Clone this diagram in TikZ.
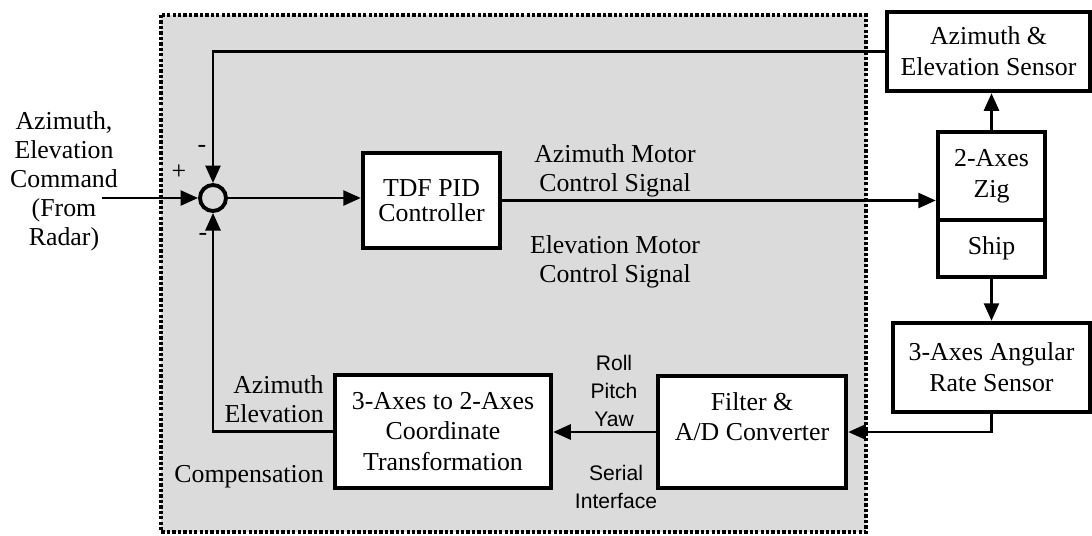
\documentclass[tikz,border=0pt]{standalone}
\usepackage{fontspec}
\setmainfont{Liberation Serif}
\setsansfont{Liberation Sans}
\usepackage{tikz}
\usetikzlibrary{arrows.meta, positioning, calc}

\begin{document}
\begin{tikzpicture}[
    x=0.02cm, y=-0.02cm,
    box/.style={rectangle, draw=black, line width=2.5pt, fill=white, align=center, inner sep=0pt, font=\fontsize{14.7}{17.5}\selectfont},
    arrow/.style={-{Triangle[length=10pt, width=8.5pt]}, line width=1.6pt},
    lbl/.style={align=center, inner sep=0pt, font=\fontsize{14.7}{16.5}\selectfont},
    sflbl/.style={align=center, inner sep=0pt, font=\sffamily\fontsize{12}{15.8}\selectfont}
]
\useasboundingbox (0,0) rectangle (1092,535);

% --- Shaded frame ---
\draw[fill=black!14, line width=1.9pt, dash pattern=on 1.9pt off 1.2pt] (161,15) rectangle (866,532);

% --- Blocks ---
\node[circle, draw=black, line width=2.2pt, minimum size=0.52cm, inner sep=0pt] (sum) at (213,198) {};
\node[box, minimum width=2.74cm, minimum height=1.9cm, font=\fontsize{14.7}{14.5}\selectfont] (tdf) at (431.5,200.5) {TDF PID\\Controller};
\node[box, minimum width=4.06cm, minimum height=1.58cm] (azsens) at (988.5,51.5) {Azimuth \&\\Elevation Sensor};
\node[box, minimum width=2.14cm, minimum height=1.76cm] (zig) at (991.5,176) {2-Axes\\Zig};
\node[box, minimum width=2.14cm, minimum height=1.14cm] (ship) at (991.5,248.5) {Ship};
\node[box, minimum width=3.94cm, minimum height=1.78cm] (rate) at (991.5,367.5) {3-Axes Angular\\Rate Sensor};
\node[box, minimum width=3.76cm, minimum height=2.24cm] (filter) at (752,432) {Filter \&\\A/D Converter\\\mbox{}};
\node[box, minimum width=4.32cm, minimum height=2.26cm] (trans) at (443,431.5) {3-Axes to 2-Axes\\Coordinate\\Transformation};

% --- Labels ---
\node[lbl] (cmd) at (64,181) {Azimuth,\\Elevation\\Command\\(From\\Radar)};
\coordinate (cmdin) at (102,198);
\node[lbl] (plus) at (179,172) {+};
\node[lbl] (mtop) at (202,149) {-};
\node[lbl] (mbot) at (203,237) {-};
\node[lbl] (azmot) at (615,171) {Azimuth Motor\\Control Signal};
\node[lbl] (elmot) at (615,262) {Elevation Motor\\Control Signal};
\node[lbl, anchor=east, align=right] (azel) at (324,399.5) {Azimuth\\Elevation};
\node[lbl, anchor=east] (comp) at (324,477) {Compensation};
\node[sflbl] (rpy) at (614,391) {Roll\\Pitch\\Yaw};
\node[sflbl] (serial) at (616,487) {Serial\\Interface};

% --- Forward path ---
\draw[arrow] (cmdin) -- (sum.west);
\draw[arrow] (sum.east) -- (sum.east -| tdf.west);
\draw[arrow] (tdf.east) -- (tdf.east -| zig.west);
\draw[arrow] (zig.north) -- (zig.north |- azsens.south);
\draw[arrow] (ship.south) -- (ship.south |- rate.north);

% --- Sensor path ---
\draw[arrow] (rate.south) |- (filter.east);
\draw[arrow] (filter.west) -- (filter.west -| trans.east);

% --- Feedback ---
\draw[arrow] (trans.west) -| (sum.south);
\draw[arrow] (azsens.west) -| (sum.north);

\end{tikzpicture}
\end{document}
